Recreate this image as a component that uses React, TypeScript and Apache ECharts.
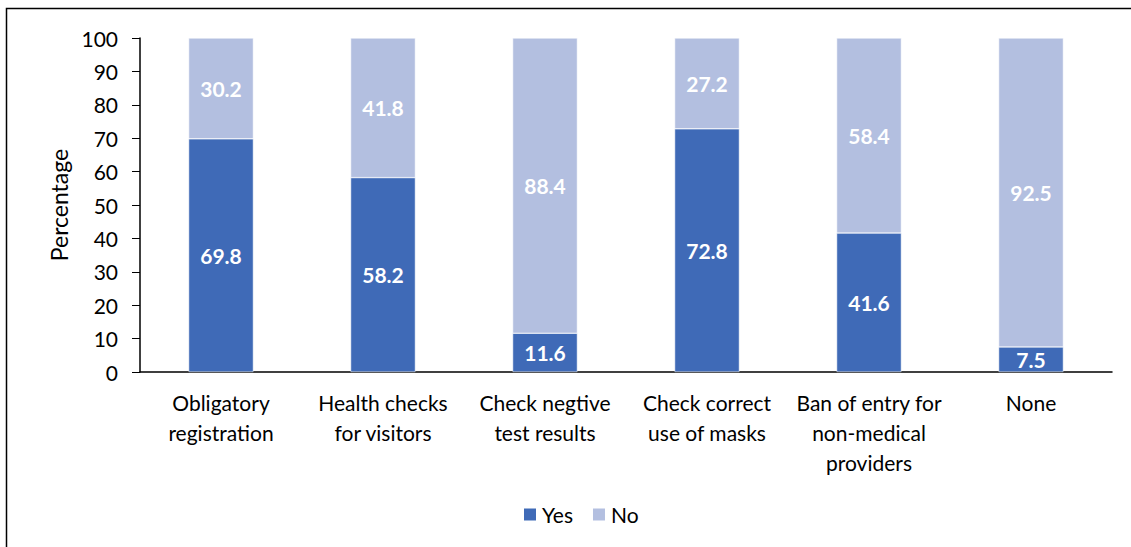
import React, { useEffect, useRef } from "react";
import * as echarts from "echarts";

const categories = [
  "Obligatory\nregistration",
  "Health checks\nfor visitors",
  "Check negtive\ntest results",
  "Check correct\nuse of masks",
  "Ban of entry for\nnon-medical\nproviders",
  "None",
];
const yesValues = [69.8, 58.2, 11.6, 72.8, 41.6, 7.5];
const noValues = [30.2, 41.8, 88.4, 27.2, 58.4, 92.5];
const yTicks = { min: 0, max: 100, interval: 10 };

const FONT = "Lato, 'Open Sans', 'Liberation Sans', sans-serif";

export default function App() {
  const ref = useRef<HTMLDivElement>(null);
  useEffect(() => {
    if (!ref.current) return;
    const chart = echarts.init(ref.current, null, { renderer: "svg" });
    const labelStyle = {
      show: true,
      position: "inside",
      color: "#ffffff",
      fontWeight: "bold",
      fontSize: 21,
      fontFamily: FONT,
      formatter: (p: any) => p.value.toFixed(1),
    };
    chart.setOption({
      animation: false,
      backgroundColor: "#ffffff",
      textStyle: { fontFamily: FONT },
      graphic: [
        {
          type: "rect",
          shape: { x: 6.5, y: 8.5, width: 1140, height: 560 },
          style: { fill: "none", stroke: "#000000", lineWidth: 1.5 },
          silent: true,
        },
      ],
      grid: { left: 140, right: 19, top: 38, bottom: 175, containLabel: false },
      legend: {
        bottom: 17,
        left: 517,
        itemWidth: 14,
        itemHeight: 14,
        itemGap: 18,
        icon: "rect",
        textStyle: { fontSize: 21, color: "#000", fontFamily: FONT },
        data: ["Yes", "No"],
      },
      xAxis: {
        type: "category",
        data: categories,
        axisLine: { lineStyle: { color: "#000", width: 1.5 } },
        axisTick: { show: false },
        axisLabel: {
          color: "#000",
          fontSize: 21,
          lineHeight: 30,
          margin: 15,
          interval: 0,
          fontFamily: FONT,
        },
      },
      yAxis: {
        type: "value",
        min: yTicks.min,
        max: yTicks.max,
        interval: yTicks.interval,
        name: "Percentage",
        nameLocation: "middle",
        nameGap: 70,
        nameTextStyle: { color: "#000", fontSize: 23, fontFamily: FONT },
        axisLine: { show: true, lineStyle: { color: "#000", width: 1.5 } },
        axisTick: { show: true, length: 8, lineStyle: { color: "#000" } },
        axisLabel: { color: "#000", fontSize: 21, margin: 22, fontFamily: FONT },
        splitLine: { show: false },
      },
      series: [
        {
          name: "Yes",
          type: "bar",
          stack: "total",
          barWidth: "40%",
          data: yesValues,
          itemStyle: { color: "#3F6AB7", borderColor: "#ffffff", borderWidth: 0.5 },
          label: labelStyle,
        },
        {
          name: "No",
          type: "bar",
          stack: "total",
          barWidth: "40%",
          data: noValues,
          itemStyle: { color: "#B3BFE0", borderColor: "#ffffff", borderWidth: 0.5 },
          label: labelStyle,
        },
      ],
    });
    return () => chart.dispose();
  }, []);
  return (
    <div
      ref={ref}
      style={{ position: "fixed", left: 0, top: 0, width: 1131, height: 547 }}
    />
  );
}
